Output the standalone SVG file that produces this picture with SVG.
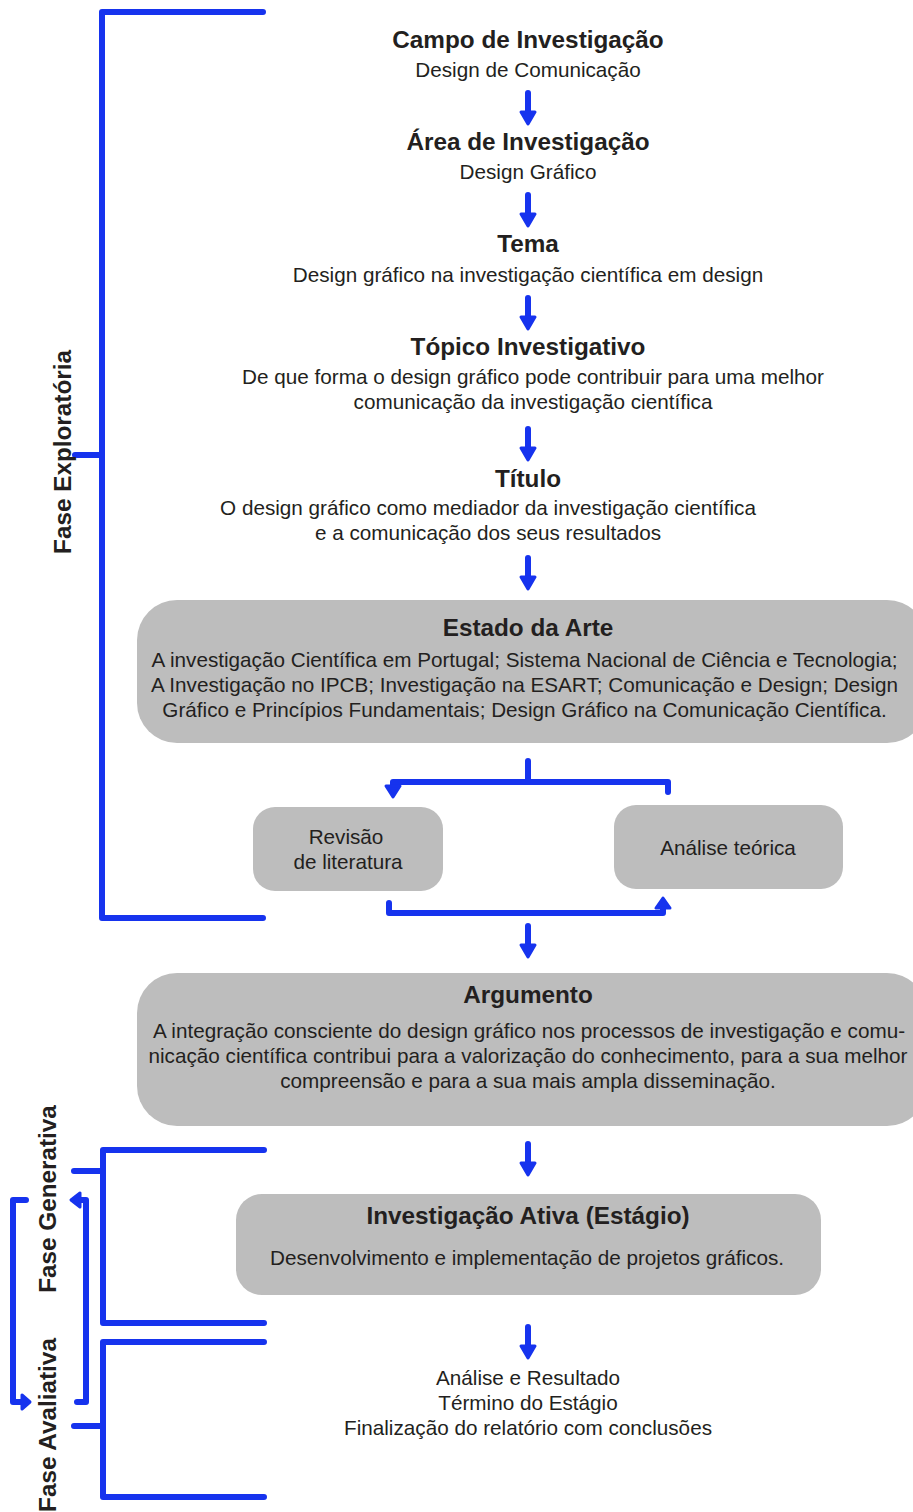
<svg xmlns="http://www.w3.org/2000/svg" width="913" height="1512" viewBox="0 0 913 1512">
<style>
.t{font-family:"Liberation Sans",Arial,sans-serif;font-size:20.7px;fill:#231F20;text-anchor:middle}
.b{font-family:"Liberation Sans",Arial,sans-serif;font-size:24.3px;font-weight:bold;fill:#231F20;text-anchor:middle}
.box{fill:#BDBDBD}
.ln{fill:none;stroke:#1633EE;stroke-width:6;stroke-linecap:round;stroke-linejoin:round}
.hd{fill:#1633EE;stroke:#1633EE;stroke-width:3;stroke-linejoin:round}
</style>
<defs>
<g id="dn"><path class="ln" d="M0 0 V20"/><path class="hd" d="M-7 19 H7 L0 31 Z"/></g>
</defs>
<rect width="913" height="1512" fill="#fff"/>

<g id="connectors">
<use href="#dn" x="528" y="93"/>
<use href="#dn" x="528" y="195"/>
<use href="#dn" x="528" y="298"/>
<use href="#dn" x="528" y="429"/>
<use href="#dn" x="528" y="558"/>
<use href="#dn" x="528" y="926"/>
<use href="#dn" x="528" y="1144"/>
<use href="#dn" x="528" y="1327"/>
<path class="ln" d="M528 761 V782 M393 786 V782 H668 V792"/>
<path class="hd" d="M386 786 H400 L393 797 Z"/>
<path class="ln" d="M389 903 V913 H663 V908"/>
<path class="hd" d="M656 908 H670 L663 898 Z"/>
</g>

<g id="bracket-exploratoria">
<path class="ln" d="M263 12 H102 V918 H263 M75 455 H102"/>
<text class="b" transform="translate(71,452) rotate(-90)">Fase Exploratória</text>
</g>

<g id="bracket-generativa">
<path class="ln" d="M264 1150 H103 V1323 H264 M74 1171 H103"/>
<text class="b" transform="translate(56,1199) rotate(-90)">Fase Generativa</text>
</g>

<g id="bracket-avaliativa">
<path class="ln" d="M264 1342 H103 V1497 H264 M74 1426 H103"/>
<text class="b" transform="translate(56,1425) rotate(-90)">Fase Avaliativa</text>
</g>

<g id="cycle">
<path class="ln" d="M26 1200 H13 V1402 H22"/>
<path class="hd" d="M22 1395 V1409 L30 1402 Z"/>
<path class="ln" d="M77 1402 H86 V1200 H80"/>
<path class="hd" d="M80 1193 V1207 L71 1200 Z"/>
</g>

<g id="campo">
<text class="b" x="528" y="48">Campo de Investigação</text>
<text class="t" x="528" y="77">Design de Comunicação</text>
</g>
<g id="area">
<text class="b" x="528" y="150">Área de Investigação</text>
<text class="t" x="528" y="179">Design Gráfico</text>
</g>
<g id="tema">
<text class="b" x="528" y="252">Tema</text>
<text class="t" x="528" y="282">Design gráfico na investigação científica em design</text>
</g>
<g id="topico">
<text class="b" x="528" y="355">Tópico Investigativo</text>
<text class="t" x="533" y="384">De que forma o design gráfico pode contribuir para uma melhor</text>
<text class="t" x="533" y="409">comunicação da investigação científica</text>
</g>
<g id="titulo">
<text class="b" x="528" y="487">Título</text>
<text class="t" x="488" y="515">O design gráfico como mediador da investigação científica</text>
<text class="t" x="488" y="540">e a comunicação dos seus resultados</text>
</g>
<g id="estado">
<rect class="box" x="137" y="600" width="790" height="143" rx="40"/>
<text class="b" x="528" y="636">Estado da Arte</text>
<text class="t" x="524.5" y="667">A investigação Científica em Portugal; Sistema Nacional de Ciência e Tecnologia;</text>
<text class="t" x="524.5" y="692">A Investigação no IPCB; Investigação na ESART; Comunicação e Design; Design</text>
<text class="t" x="524.5" y="717">Gráfico e Princípios Fundamentais; Design Gráfico na Comunicação Científica.</text>
</g>
<g id="revisao">
<rect class="box" x="253" y="807" width="190" height="84" rx="22"/>
<text class="t" x="346" y="844">Revisão</text>
<text class="t" x="348" y="869">de literatura</text>
</g>
<g id="analise">
<rect class="box" x="614" y="805" width="229" height="84" rx="22"/>
<text class="t" x="728" y="855">Análise teórica</text>
</g>
<g id="argumento">
<rect class="box" x="137" y="973" width="790" height="153" rx="40"/>
<text class="b" x="528" y="1003">Argumento</text>
<text class="t" x="529" y="1038">A integração consciente do design gráfico nos processos de investigação e comu-</text>
<text class="t" x="528" y="1063">nicação científica contribui para a valorização do conhecimento, para a sua melhor</text>
<text class="t" x="528" y="1088">compreensão e para a sua mais ampla disseminação.</text>
</g>
<g id="ativa">
<rect class="box" x="236" y="1194" width="585" height="101" rx="26"/>
<text class="b" x="528" y="1224">Investigação Ativa (Estágio)</text>
<text class="t" x="527" y="1265">Desenvolvimento e implementação de projetos gráficos.</text>
</g>
<g id="final">
<text class="t" x="528" y="1385">Análise e Resultado</text>
<text class="t" x="528" y="1410">Término do Estágio</text>
<text class="t" x="528" y="1435">Finalização do relatório com conclusões</text>
</g>
</svg>
